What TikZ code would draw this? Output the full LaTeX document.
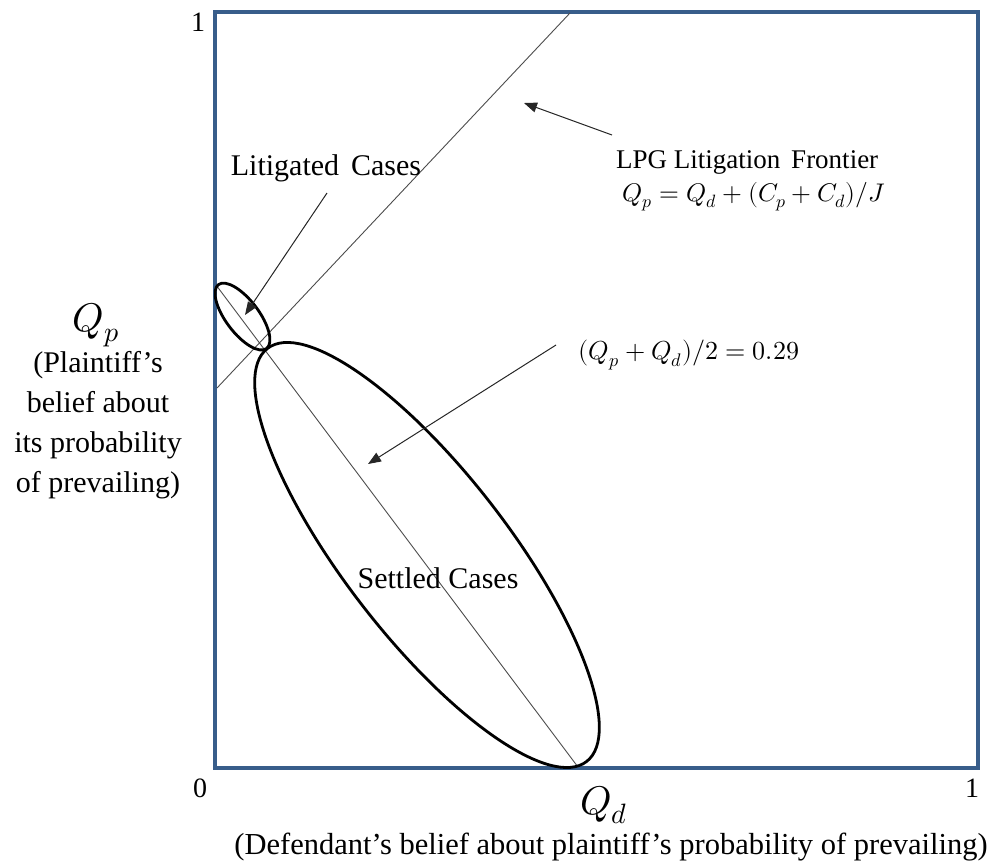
\documentclass[tikz,border=0pt]{standalone}
\usepackage{fontspec}
\usepackage{unicode-math}
\setmainfont{Liberation Serif}
\setmathfont{Latin Modern Math}
\usetikzlibrary{arrows.meta}
\definecolor{boxblue}{HTML}{385D8A}
\begin{document}
\begin{tikzpicture}[x=1pt,y=-1pt,
  frame/.style={draw=boxblue, line width=3.8pt},
  thinline/.style={draw=black!70, line width=0.9pt},
  oval/.style={draw=black, line width=2.8pt},
  pointer/.style={draw=black!85, line width=1pt, -{Triangle[length=13pt,width=10pt]}},
  lbl/.style={inner sep=0pt},
]
\useasboundingbox (0,0) rectangle (997,863);
% frame
\coordinate (TL) at (215,12);
\coordinate (BR) at (978,768);
\draw[frame] (TL) rectangle (BR);
% lines
\coordinate (fl0) at (217,388);
\coordinate (fl1) at (570,13);
\draw[thinline] (fl0) -- (fl1);
\coordinate (dg0) at (216,285);
\coordinate (dg1) at (578,767);
\draw[thinline] (dg0) -- (dg1);
% ellipses
\coordinate (sc) at (242.5,316.5);
\draw[oval, rotate around={-53:(sc)}] (sc) ellipse [x radius=40, y radius=16.5];
\coordinate (bc) at (427,555);
\draw[oval, rotate around={-52.3:(bc)}] (bc) ellipse [x radius=261, y radius=82];
% labels
\node[lbl, anchor=west, font=\fontsize{27}{30}\selectfont] (lpg) at (616,162) {LPG Litigation\hspace{0.4em}Frontier};
\node[lbl, font=\fontsize{25.5}{30}\selectfont] (eq) at (754,197) {$Q_p = Q_d + (C_p + C_d)/J$};
\node[lbl, font=\fontsize{30}{34}\selectfont] (lit) at (326,168) {Litigated\hspace{0.4em}Cases};
\node[lbl, font=\fontsize{26}{30}\selectfont] (mean) at (689,355) {$(Q_p + Q_d)/2 = 0.29$};
\node[lbl, font=\fontsize{30}{34}\selectfont] (settled) at (438,578) {Settled Cases};
\node[lbl, font=\fontsize{40}{44}\selectfont] (qp) at (96,325) {$Q_p$};
\node[lbl, align=center, font=\fontsize{30}{40}\selectfont] (qpdesc) at (98,425) {(Plaintiff’s\\belief about\\its probability\\of prevailing)};
\node[lbl, font=\fontsize{40}{44}\selectfont] (qd) at (604,805) {$Q_d$};
\node[lbl, font=\fontsize{30.5}{34}\selectfont] (qddesc) at (611,847) {(Defendant’s belief about plaintiff’s probability of prevailing)};
\node[lbl, font=\fontsize{28}{30}\selectfont] (one1) at (198,22) {1};
\node[lbl, font=\fontsize{28}{30}\selectfont] (zero) at (200,788) {0};
\node[lbl, font=\fontsize{28}{30}\selectfont] (one2) at (972,788) {1};
% pointers
\coordinate (lpgtail) at (612,135);
\coordinate (lpgtip) at (524,103);
\draw[pointer] (lpgtail) -- (lpgtip);
\coordinate (littail) at (327,193);
\coordinate (littip) at (245,315);
\draw[pointer] (littail) -- (littip);
\coordinate (meantail) at (556,345);
\coordinate (meantip) at (368,464);
\draw[pointer] (meantail) -- (meantip);
\end{tikzpicture}
\end{document}
